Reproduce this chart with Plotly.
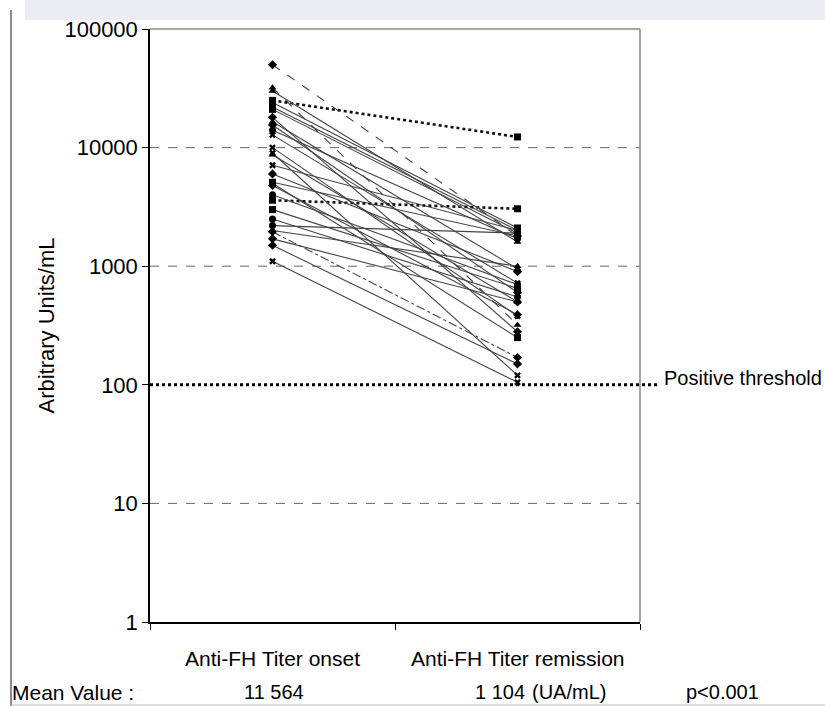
import plotly.graph_objects as go

# ---- data ----
categories = ["Anti-FH Titer onset", "Anti-FH Titer remission"]
onset = [50000, 32000, 25000, 22000, 21000, 16500, 15500, 12800, 8700, 7100,
         5100, 4800, 3600, 3000, 2200, 1950, 1500, 1100, 30000, 18000,
         14000, 10000, 6000, 5000, 2500, 2000, 4000, 24000, 9000, 1700]
remission = [1800, 320, 12300, 2000, 1900, 950, 600, 720, 500, 2000,
             1800, 390, 3050, 650, 1900, 170, 150, 105, 1600, 280,
             1700, 380, 900, 250, 550, 1000, 700, 2100, 120, 500]
line_styles = ["dash", "dash", "dot", "solid", "solid", "solid", "solid", "solid", "solid", "solid",
               "solid", "solid", "dot", "solid", "solid", "dashdot", "solid", "solid", "solid", "solid",
               "solid", "solid", "solid", "solid", "solid", "solid", "solid", "solid", "solid", "solid"]
markers = ["diamond", "triangle-up", "square", "square", "square", "triangle-up", "diamond", "x", "triangle-up", "x",
           "square", "diamond", "square", "square", "circle", "diamond", "diamond", "x", "triangle-up", "diamond",
           "circle", "x", "diamond", "square", "circle", "triangle-up", "circle", "square", "x", "diamond"]
y_ticks = [1, 10, 100, 1000, 10000, 100000]
grid_values = [10, 1000, 10000]
threshold = 100
mean_onset = "11 564"
mean_remission = "1 104"

FONT = "Liberation Sans, Arial, sans-serif"
W, H = 825, 706
L, R, T, B = 150, 640, 29, 622

def xp(px):
    return (px - L) / (R - L)

def yp(py):
    return (B - py) / (B - T)

x_pos = [0.5, 1.5]

fig = go.Figure()
for i in range(len(onset)):
    bold = line_styles[i] == "dot"
    fig.add_trace(go.Scatter(
        x=x_pos, y=[onset[i], remission[i]],
        mode="lines+markers",
        line=dict(color="#111" if bold else "#444",
                  width=2.6 if bold else 1.1,
                  dash=line_styles[i]),
        marker=dict(symbol=markers[i], size=7 if markers[i] != "x" else 6,
                    color="#000", line=dict(width=0)),
        showlegend=False, hoverinfo="skip"))

shapes = []
for g in grid_values:
    shapes.append(dict(type="line", xref="x", yref="y", x0=0, x1=2, y0=g, y1=g,
                       line=dict(color="#666", width=1, dash="dash"), layer="below"))
shapes.append(dict(type="line", xref="paper", yref="y", x0=0, x1=xp(660), y0=threshold, y1=threshold,
                   line=dict(color="#000", width=3, dash="dot")))
shapes.append(dict(type="line", xref="paper", yref="paper", x0=0, x1=1, y0=1, y1=1,
                   line=dict(color="#888", width=1.5)))
shapes.append(dict(type="line", xref="paper", yref="paper", x0=1, x1=1, y0=0, y1=1,
                   line=dict(color="#888", width=1.5)))
shapes.append(dict(type="rect", xref="paper", yref="paper", x0=xp(25), x1=xp(825), y0=yp(0), y1=yp(20),
                   fillcolor="#ececf4", line=dict(width=0), layer="below"))
shapes.append(dict(type="line", xref="paper", yref="paper", x0=xp(11), x1=xp(11), y0=yp(706), y1=yp(10),
                   line=dict(color="#8a8a8a", width=2)))
shapes.append(dict(type="line", xref="paper", yref="paper", x0=xp(11), x1=xp(825), y0=yp(705), y1=yp(705),
                   line=dict(color="#bbb", width=1)))

tf = dict(family=FONT, size=21, color="#000")
bf = dict(family=FONT, size=20, color="#000")

def ann(px, py, text, anchor="center", font=tf):
    return dict(x=xp(px), y=yp(py), xref="paper", yref="paper", text=text, showarrow=False,
                xanchor=anchor, yanchor="middle", font=font)

annotations = [
    dict(x=0.5, y=yp(658), xref="x", yref="paper", text=categories[0], showarrow=False,
         xanchor="center", yanchor="middle", font=tf),
    dict(x=1.5, y=yp(658), xref="x", yref="paper", text=categories[1], showarrow=False,
         xanchor="center", yanchor="middle", font=tf),
    ann(10, 692, "Mean Value :", "left", dict(family=FONT, size=21, color="#000")),
    ann(274, 692, mean_onset, font=bf),
    ann(500, 692, mean_remission, font=bf),
    ann(569, 692, "(UA/mL)", font=bf),
    ann(722, 692, "p<0.001", font=bf),
    ann(662, 378, "Positive threshold", "left", dict(family=FONT, size=20, color="#000")),
]

fig.update_layout(
    width=W, height=H,
    margin=dict(l=L, r=W - R, t=T, b=H - B),
    paper_bgcolor="white", plot_bgcolor="white",
    shapes=shapes, annotations=annotations,
    xaxis=dict(range=[0, 2], tickvals=[0, 1, 2], ticktext=["", "", ""], ticks="outside",
               ticklen=6, tickcolor="#000", showgrid=False, zeroline=False,
               showline=True, linecolor="#000", linewidth=1.5),
    yaxis=dict(type="log", range=[0, 5], tickvals=y_ticks, ticktext=[str(v) for v in y_ticks],
               ticks="outside", ticklen=6, tickcolor="#000", showgrid=False, zeroline=False,
               showline=True, linecolor="#000", linewidth=1.5,
               tickfont=dict(family=FONT, size=22, color="#000"),
               title=dict(text="Arbitrary Units/mL", font=dict(family=FONT, size=22, color="#000"),
                          standoff=4)),
)

fig.write_html("out.html")
